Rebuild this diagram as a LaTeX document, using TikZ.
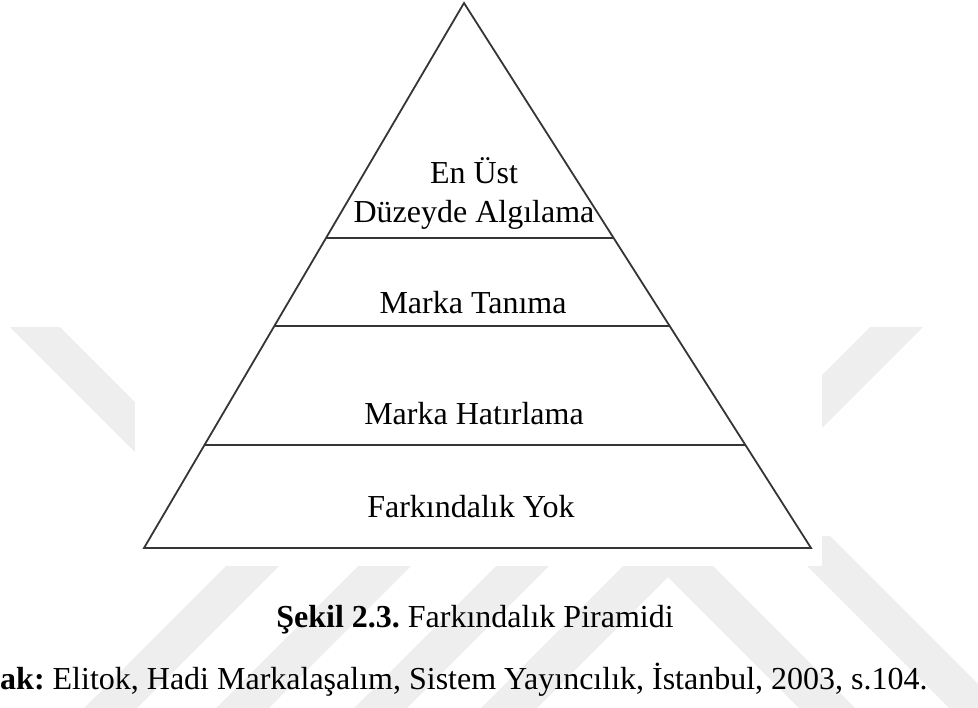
\documentclass[tikz,border=0pt]{standalone}
\usepackage{fontspec}
\setmainfont{Liberation Serif}
\usetikzlibrary{calc}

\definecolor{wmark}{HTML}{EEEEEE}
\definecolor{pyrline}{HTML}{353535}

\begin{document}
\frenchspacing
\begin{tikzpicture}[
    x=0.5pt,y=-0.5pt,
    band/.style={fill=wmark,draw=none},
    edge/.style={draw=pyrline,line width=0.9pt,line join=miter},
    lvl/.style={font=\fontsize{16}{19}\selectfont,inner sep=0,anchor=base},
    captxt/.style={font=\fontsize{16}{19}\selectfont,inner sep=0,anchor=base}
    ]
    \useasboundingbox (0,0) rectangle (978,707);
    \clip (0,0) rectangle (978,707);

    % watermark
    \fill[band] (10,327) -- (60,327) -- (200,467) -- (150,467) -- cycle;
    \fill[band] (870,327) -- (923,327) -- (783,467) -- (730,467) -- cycle;
    \foreach \a in {226,358,496} {
      \fill[band] (\a+30,536) -- (\a+83,536) -- (\a-97,716) -- (\a-150,716) -- cycle;
    }
    \fill[band] (473,716) -- (668,521) -- (863,716) -- (807,716)
      -- (668,577) -- (529,716) -- cycle;
    \fill[band] (777,536) -- (830,536) -- (1010,716) -- (957,716) -- cycle;

    % figure sheet
    \fill[white] (135,0) rectangle (822,566);

    % pyramid
    \coordinate (apex) at (464,3);
    \coordinate (bl) at (144,548);
    \coordinate (br) at (811,548);
    \draw[edge] (bl) -- (apex) -- (br) -- cycle;
    \foreach \t [count=\i] in {0.431,0.593,0.811} {
      \coordinate (l\i) at ($(apex)!\t!(bl)$);
      \coordinate (r\i) at ($(apex)!\t!(br)$);
      \draw[edge] (l\i) -- (r\i);
    }

    % level labels
    \node[lvl] (top1) at (474,183) {En Üst};
    \node[lvl] (top2) at (474,222) {Düzeyde Algılama};
    \node[lvl] (tani) at (473,313) {Marka Tanıma};
    \node[lvl] (hati) at (474,424) {Marka Hatırlama};
    \node[lvl] (yok) at (471,517) {Farkındalık Yok};

    % caption and source
    \node[captxt] (sekil) at (475,627) {\textbf{Şekil 2.3.} Farkındalık Piramidi};
    \node[captxt,anchor=base east] (kaynak) at (928,689)
      {\textbf{Kaynak:} Elitok, Hadi Markalaşalım, Sistem Yayıncılık, İstanbul, 2003, s.104.};
\end{tikzpicture}
\end{document}
